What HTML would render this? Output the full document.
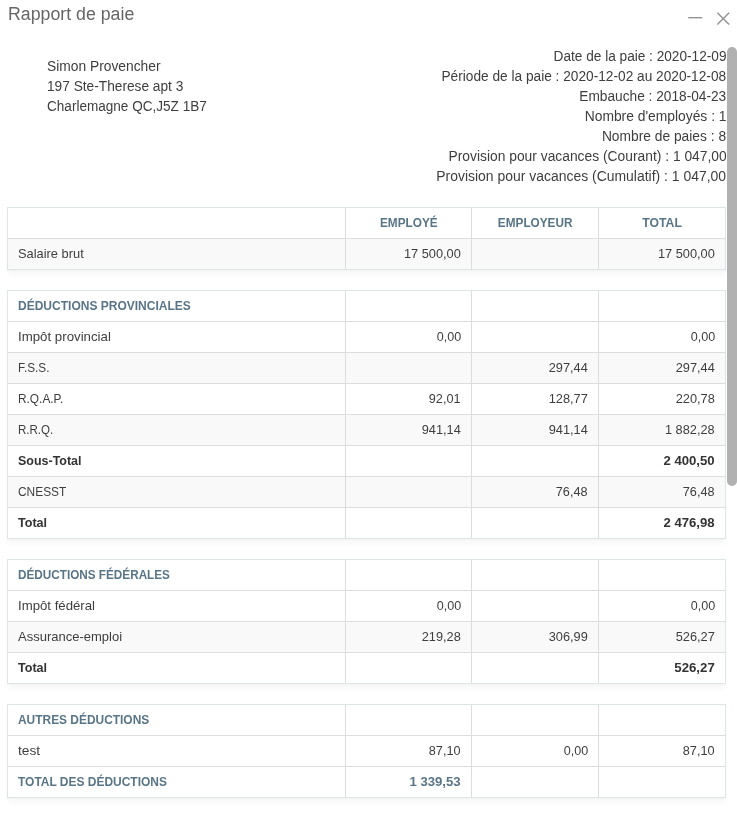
<!DOCTYPE html>
<html lang="fr">
<head>
<meta charset="utf-8">
<title>Rapport de paie</title>
<style>
*{box-sizing:border-box;margin:0;padding:0}
html,body{width:737px;height:817px;overflow:hidden;background:#fff}
body{position:relative;font-family:"Liberation Sans",sans-serif;font-size:14px;color:#3e3e3e}
.title{position:absolute;left:7.5px;top:2px;font-size:18px;line-height:24px;color:#666;white-space:nowrap}
.ico{position:absolute;left:680px;top:6px}
.addr{position:absolute;left:47px;top:56px;line-height:20px;font-size:14px;white-space:nowrap}
.info{position:absolute;right:10.5px;top:46px;line-height:20px;font-size:14px;text-align:right;white-space:nowrap}
.addr div,.info div{height:20px}
.sb{position:absolute;left:727px;top:47px;width:10px;height:439px;background:#b1b1b1;border-radius:5px}
.tb{position:absolute;left:7px;width:719px;border:1px solid #dee5e7;box-shadow:0 1px 1px rgba(0,0,0,.02),0 6px 5px -1px rgba(0,0,0,.03);background:#fff;font-size:13px}
.r{display:flex;height:31px;border-top:1px solid #ddd}
.r:first-child{height:30px;border-top:0}
.r.g{background:#f9f9f9}
.c{height:100%;line-height:30px;padding:0 10px;white-space:nowrap;border-right:1px solid #ddd;text-align:right}
.c:nth-child(1){width:338px;text-align:left}
.c:nth-child(2){width:126px}
.c:nth-child(3){width:127px}
.c:nth-child(4){width:126px;border-right:0}
.h .c{font-weight:bold;color:#587587}
.h.m .c{text-align:center}
.h.m .c:nth-child(1){text-align:left}
.b .c{font-weight:bold;color:#333}
.c.hl{font-weight:bold;color:#587587}
.s{display:inline-block;transform-origin:100% 50%}
.title .s,.addr .s,.c:first-child .s{transform-origin:0 50%}
.h.m .c .s{transform-origin:50% 50%}
</style>
</head>
<body>
<div class="title"><span class="s" style="transform:scaleX(0.9856)">Rapport de paie</span></div>
<svg class="ico" width="54" height="24" viewBox="0 0 54 24"><path d="M8.2 11.7H22.2" stroke="#929292" stroke-width="1.4" fill="none"/><path d="M37.3 6.7L49.2 18.5M49.2 6.7L37.3 18.5" stroke="#929292" stroke-width="1.4" fill="none"/></svg>
<div class="addr"><div><span class="s" style="transform:scaleX(0.9860)">Simon Provencher</span></div><div><span class="s" style="transform:scaleX(0.9785)">197 Ste-Therese apt 3</span></div><div><span class="s" style="transform:scaleX(0.9687)">Charlemagne QC,J5Z 1B7</span></div></div>
<div class="info"><div><span class="s" style="transform:scaleX(0.9742)">Date de la paie : 2020-12-09</span></div><div><span class="s" style="transform:scaleX(0.9779)">Période de la paie : 2020-12-02 au 2020-12-08</span></div><div><span class="s" style="transform:scaleX(0.9781)">Embauche : 2018-04-23</span></div><div><span class="s" style="transform:scaleX(0.9881)">Nombre d'employés : 1</span></div><div><span class="s" style="transform:scaleX(0.9848)">Nombre de paies : 8</span></div><div><span class="s" style="transform:scaleX(0.9875)">Provision pour vacances (Courant) : 1 047,00</span></div><div><span class="s" style="transform:scaleX(0.9957)">Provision pour vacances (Cumulatif) : 1 047,00</span></div></div>

<div class="tb" style="top:207px">
<div class="r h m"><div class="c"></div><div class="c"><span class="s" style="transform:scaleX(0.9083)">EMPLOYÉ</span></div><div class="c"><span class="s" style="transform:scaleX(0.9066)">EMPLOYEUR</span></div><div class="c"><span class="s" style="transform:scaleX(0.9395)">TOTAL</span></div></div>
<div class="r g"><div class="c"><span class="s" style="transform:scaleX(0.9885)">Salaire brut</span></div><div class="c"><span class="s" style="transform:scaleX(0.9843)">17 500,00</span></div><div class="c"></div><div class="c"><span class="s" style="transform:scaleX(0.9843)">17 500,00</span></div></div>
</div>

<div class="tb" style="top:290px">
<div class="r h"><div class="c"><span class="s" style="transform:scaleX(0.9239)">DÉDUCTIONS PROVINCIALES</span></div><div class="c"></div><div class="c"></div><div class="c"></div></div>
<div class="r"><div class="c"><span class="s" style="transform:scaleX(1.0201)">Impôt provincial</span></div><div class="c"><span class="s" style="transform:scaleX(0.9673)">0,00</span></div><div class="c"></div><div class="c"><span class="s" style="transform:scaleX(0.9673)">0,00</span></div></div>
<div class="r g"><div class="c"><span class="s" style="transform:scaleX(0.9059)">F.S.S.</span></div><div class="c"></div><div class="c"><span class="s" style="transform:scaleX(0.9831)">297,44</span></div><div class="c"><span class="s" style="transform:scaleX(0.9831)">297,44</span></div></div>
<div class="r"><div class="c"><span class="s" style="transform:scaleX(0.9128)">R.Q.A.P.</span></div><div class="c"><span class="s" style="transform:scaleX(0.9770)">92,01</span></div><div class="c"><span class="s" style="transform:scaleX(0.9831)">128,77</span></div><div class="c"><span class="s" style="transform:scaleX(0.9831)">220,78</span></div></div>
<div class="r g"><div class="c"><span class="s" style="transform:scaleX(0.8871)">R.R.Q.</span></div><div class="c"><span class="s" style="transform:scaleX(0.9831)">941,14</span></div><div class="c"><span class="s" style="transform:scaleX(0.9831)">941,14</span></div><div class="c"><span class="s" style="transform:scaleX(0.9805)">1 882,28</span></div></div>
<div class="r b"><div class="c"><span class="s" style="transform:scaleX(0.9594)">Sous-Total</span></div><div class="c"></div><div class="c"></div><div class="c"><span class="s" style="transform:scaleX(1.0114)">2 400,50</span></div></div>
<div class="r g"><div class="c"><span class="s" style="transform:scaleX(0.9164)">CNESST</span></div><div class="c"></div><div class="c"><span class="s" style="transform:scaleX(0.9770)">76,48</span></div><div class="c"><span class="s" style="transform:scaleX(0.9770)">76,48</span></div></div>
<div class="r b"><div class="c"><span class="s" style="transform:scaleX(0.9668)">Total</span></div><div class="c"></div><div class="c"></div><div class="c"><span class="s" style="transform:scaleX(1.0114)">2 476,98</span></div></div>
</div>

<div class="tb" style="top:559px">
<div class="r h"><div class="c"><span class="s" style="transform:scaleX(0.9029)">DÉDUCTIONS FÉDÉRALES</span></div><div class="c"></div><div class="c"></div><div class="c"></div></div>
<div class="r"><div class="c"><span class="s" style="transform:scaleX(1.0148)">Impôt fédéral</span></div><div class="c"><span class="s" style="transform:scaleX(0.9673)">0,00</span></div><div class="c"></div><div class="c"><span class="s" style="transform:scaleX(0.9673)">0,00</span></div></div>
<div class="r g"><div class="c"><span class="s" style="transform:scaleX(1.0005)">Assurance-emploi</span></div><div class="c"><span class="s" style="transform:scaleX(0.9831)">219,28</span></div><div class="c"><span class="s" style="transform:scaleX(0.9831)">306,99</span></div><div class="c"><span class="s" style="transform:scaleX(0.9831)">526,27</span></div></div>
<div class="r b"><div class="c"><span class="s" style="transform:scaleX(0.9668)">Total</span></div><div class="c"></div><div class="c"></div><div class="c"><span class="s" style="transform:scaleX(1.0185)">526,27</span></div></div>
</div>

<div class="tb" style="top:704px">
<div class="r h"><div class="c"><span class="s" style="transform:scaleX(0.9176)">AUTRES DÉDUCTIONS</span></div><div class="c"></div><div class="c"></div><div class="c"></div></div>
<div class="r"><div class="c"><span class="s" style="transform:scaleX(1.0544)">test</span></div><div class="c"><span class="s" style="transform:scaleX(0.9770)">87,10</span></div><div class="c"><span class="s" style="transform:scaleX(0.9673)">0,00</span></div><div class="c"><span class="s" style="transform:scaleX(0.9770)">87,10</span></div></div>
<div class="r h"><div class="c"><span class="s" style="transform:scaleX(0.9202)">TOTAL DES DÉDUCTIONS</span></div><div class="c"><span class="s" style="transform:scaleX(1.0114)">1 339,53</span></div><div class="c"></div><div class="c"></div></div>
</div>

<div class="sb"></div>
</body>
</html>
